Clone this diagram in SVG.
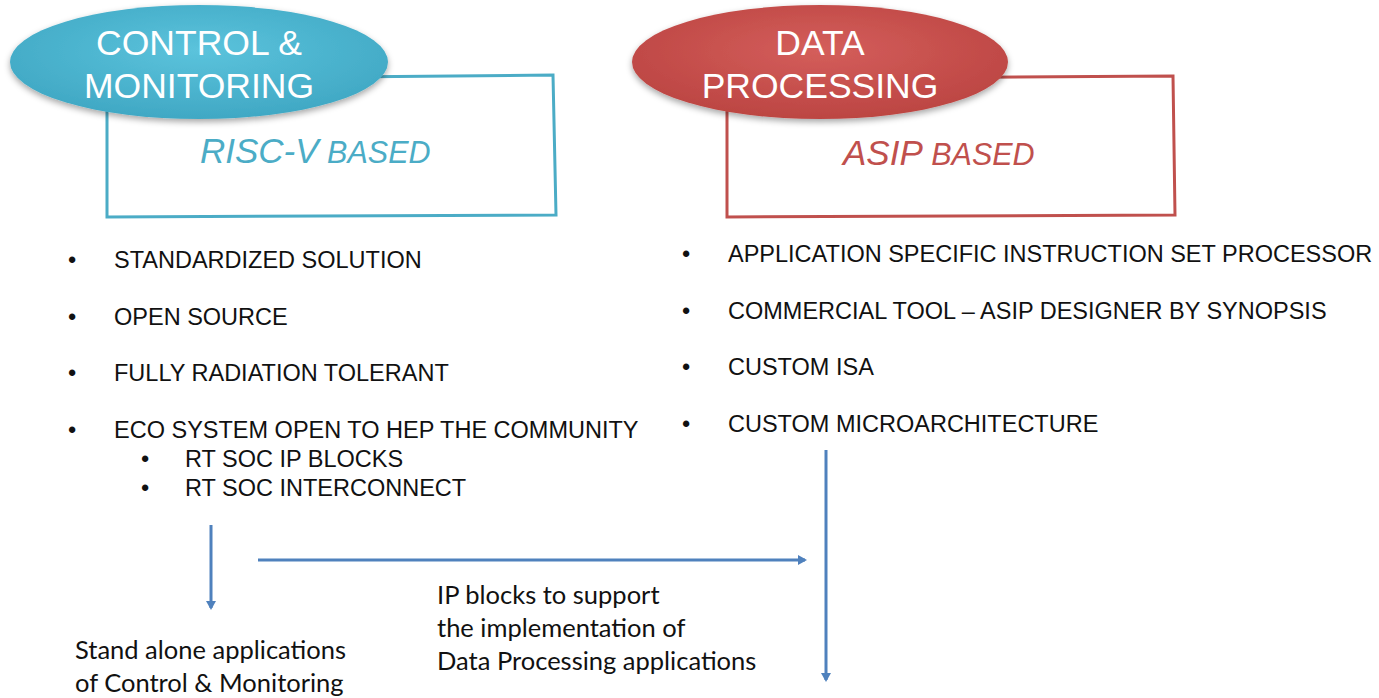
<svg xmlns="http://www.w3.org/2000/svg" width="1379" height="698" viewBox="0 0 1379 698">
<style>
.b{font-family:"Liberation Sans",Arial,sans-serif;font-size:23.5px;fill:#111}
.c{font-family:Lato,"Open Sans",sans-serif;font-size:25.5px;fill:#111}
.h{font-family:"Liberation Sans",Arial,sans-serif;font-size:35.5px;fill:#fff;text-anchor:middle}
.it{font-family:"Liberation Sans",Arial,sans-serif;font-style:italic}
.con{stroke:#4F81BD;stroke-width:3;fill:none}
</style>
<defs>
<radialGradient id="gc" cx="50%" cy="40%" r="60%"><stop offset="0" stop-color="#5BC3DC"/><stop offset="1" stop-color="#40A8C4"/></radialGradient>
<radialGradient id="gr" cx="50%" cy="40%" r="60%"><stop offset="0" stop-color="#D45E5B"/><stop offset="1" stop-color="#BC4542"/></radialGradient>
<filter id="sh" x="-10%" y="-10%" width="120%" height="130%"><feDropShadow dx="0" dy="3" stdDeviation="3" flood-color="#000" flood-opacity="0.35"/></filter>
<marker id="ah" markerWidth="10" markerHeight="10" refX="7" refY="5" orient="auto" markerUnits="userSpaceOnUse"><path d="M0,0 L9,5 L0,10 z" fill="#4F81BD"/></marker>
</defs>
<g id="control">
<path d="M107,79 L553,75 L556,215 L107,217 Z" fill="none" stroke="#4BACC6" stroke-width="3"/>
<ellipse cx="199" cy="62" rx="189" ry="57" fill="url(#gc)" filter="url(#sh)"/>
<text class="h" x="199" y="55">CONTROL &amp;</text>
<text class="h" x="199" y="98">MONITORING</text>
<text class="it" x="200" y="163" fill="#4BACC6"><tspan font-size="35">RISC-V</tspan><tspan font-size="30.5"> BASED</tspan></text>
</g>
<g id="data">
<path d="M727,79 L1173,76 L1175,215 L727,217 Z" fill="none" stroke="#C0504D" stroke-width="3"/>
<ellipse cx="820" cy="62" rx="188" ry="57" fill="url(#gr)" filter="url(#sh)"/>
<text class="h" x="820" y="55">DATA</text>
<text class="h" x="820" y="98">PROCESSING</text>
<text class="it" x="843" y="165" fill="#C0504D"><tspan font-size="35">ASIP</tspan><tspan font-size="30.5"> BASED</tspan></text>
</g>
<g id="left-list">
<text class="b" x="68" y="268">•</text><text class="b" x="114" y="268">STANDARDIZED SOLUTION</text>
<text class="b" x="68" y="325">•</text><text class="b" x="114" y="325">OPEN SOURCE</text>
<text class="b" x="68" y="381">•</text><text class="b" x="114" y="381">FULLY RADIATION TOLERANT</text>
<text class="b" x="68" y="438">•</text><text class="b" x="114" y="438">ECO SYSTEM OPEN TO HEP THE COMMUNITY</text>
<text class="b" x="141" y="467">•</text><text class="b" x="185" y="467">RT SOC IP BLOCKS</text>
<text class="b" x="141" y="496">•</text><text class="b" x="185" y="496">RT SOC INTERCONNECT</text>
</g>
<g id="right-list">
<text class="b" x="682" y="262">•</text><text class="b" x="728" y="262">APPLICATION SPECIFIC INSTRUCTION SET PROCESSOR</text>
<text class="b" x="682" y="319">•</text><text class="b" x="728" y="319">COMMERCIAL TOOL – ASIP DESIGNER BY SYNOPSIS</text>
<text class="b" x="682" y="375">•</text><text class="b" x="728" y="375">CUSTOM ISA</text>
<text class="b" x="682" y="432">•</text><text class="b" x="728" y="432">CUSTOM MICROARCHITECTURE</text>
</g>
<g id="connectors">
<line class="con" x1="211" y1="525" x2="211" y2="608" marker-end="url(#ah)"/>
<line class="con" x1="258" y1="560" x2="805" y2="560" marker-end="url(#ah)"/>
<line class="con" x1="826" y1="450" x2="826" y2="680" marker-end="url(#ah)"/>
</g>
<g id="standalone">
<text class="c" x="75" y="659">Stand alone applications</text>
<text class="c" x="75" y="692">of Control &amp; Monitoring</text>
</g>
<g id="ip-label">
<text class="c" x="437" y="604">IP blocks to support</text>
<text class="c" x="437" y="637">the implementation of</text>
<text class="c" x="437" y="670">Data Processing applications</text>
</g>
</svg>
